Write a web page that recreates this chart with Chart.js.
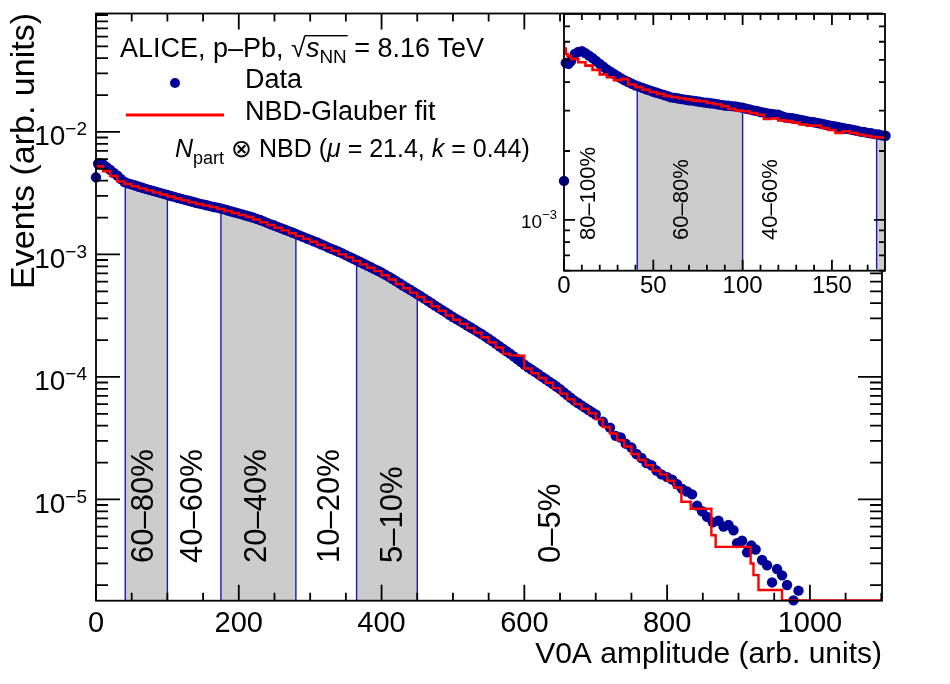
<!DOCTYPE html>
<html>
<head>
<meta charset="utf-8">
<title>V0A amplitude, p-Pb 8.16 TeV</title>
<script src="https://cdn.jsdelivr.net/npm/chart.js@4.4.1/dist/chart.umd.min.js"></script>
<style>
  html, body { margin: 0; padding: 0; background: #fff; }
  #wrap  { position: relative; width: 950px; height: 684px; }
  #main  { position: absolute; left: 0; top: 0; }
  #inset { position: absolute; left: 500px; top: 0; }
</style>
</head>
<body>
<div id="wrap">
  <canvas id="main" width="950" height="684"></canvas>
  <canvas id="inset" width="450" height="310"></canvas>
</div>
<script>
// ── Data ─────────────────────────────────────────────────────────────────────

// Main panel: measured V0A amplitude distribution
const dataAmp = [
  0, 3, 6, 10, 15, 20, 25, 30, 35, 40, 45,
  50, 55, 60, 65, 70, 75, 80, 85, 90, 95, 100, 105, 110, 115, 120, 125, 130, 135, 140, 145,
  150, 155, 160, 165, 170, 175, 180, 185, 190, 195, 200, 205, 210, 215, 220, 225, 230, 235, 240, 245,
  250, 255, 260, 265, 270, 275, 280, 285, 290, 295, 300, 305, 310, 315, 320, 325, 330, 335, 340, 345,
  350, 355, 360, 365, 370, 375, 380, 385, 390, 395, 400, 405, 410, 415, 420, 425, 430, 435, 440, 445,
  450, 455, 460, 465, 470, 475, 480, 485, 490, 495, 500, 505, 510, 515, 520, 525, 530, 535, 540, 545,
  550, 555, 560, 565, 570, 575, 580, 585, 590, 595, 600, 605, 610, 615, 620, 625, 630, 635, 640, 645,
  650, 655, 660, 665, 670, 675, 680, 685, 690, 695, 700,
  710, 720, 728, 735, 742, 750, 757, 764, 771, 778, 785, 792, 800, 807,
  814, 821, 828, 835, 842, 849, 856, 864, 872, 879, 886, 893, 898, 905,
  912, 918, 924, 933, 940, 947, 954, 961, 968, 977, 984,
];
const dataEvents = [
  4.26e-3, 5.50e-3, 5.55e-3, 5.43e-3, 5.15e-3, 4.90e-3, 4.62e-3, 4.40e-3, 4.12e-3, 3.90e-3, 3.80e-3,
  3.73e-3, 3.65e-3, 3.57e-3, 3.50e-3, 3.43e-3, 3.36e-3, 3.30e-3, 3.24e-3, 3.18e-3, 3.12e-3,
  3.06e-3, 3.00e-3, 2.95e-3, 2.89e-3, 2.84e-3, 2.79e-3, 2.74e-3, 2.69e-3, 2.64e-3, 2.60e-3,
  2.56e-3, 2.52e-3, 2.48e-3, 2.44e-3, 2.41e-3, 2.37e-3, 2.33e-3, 2.28e-3, 2.24e-3, 2.20e-3,
  2.16e-3, 2.12e-3, 2.08e-3, 2.04e-3, 2.00e-3, 1.95e-3, 1.91e-3, 1.86e-3, 1.81e-3, 1.76e-3,
  1.72e-3, 1.67e-3, 1.63e-3, 1.59e-3, 1.55e-3, 1.51e-3, 1.47e-3, 1.43e-3, 1.39e-3, 1.35e-3,
  1.32e-3, 1.28e-3, 1.25e-3, 1.21e-3, 1.18e-3, 1.14e-3, 1.11e-3, 1.08e-3, 1.05e-3, 1.02e-3,
  9.86e-4, 9.55e-4, 9.25e-4, 8.96e-4, 8.67e-4, 8.39e-4, 8.11e-4, 7.85e-4, 7.59e-4, 7.35e-4,
  7.11e-4, 6.84e-4, 6.58e-4, 6.32e-4, 6.07e-4, 5.82e-4, 5.58e-4, 5.36e-4, 5.15e-4, 4.94e-4,
  4.74e-4, 4.55e-4, 4.36e-4, 4.17e-4, 3.99e-4, 3.82e-4, 3.66e-4, 3.51e-4, 3.36e-4, 3.22e-4,
  3.08e-4, 2.96e-4, 2.85e-4, 2.74e-4, 2.63e-4, 2.53e-4, 2.43e-4, 2.33e-4, 2.24e-4, 2.14e-4,
  2.05e-4, 1.96e-4, 1.87e-4, 1.78e-4, 1.70e-4, 1.62e-4, 1.55e-4, 1.47e-4, 1.40e-4, 1.33e-4,
  1.26e-4, 1.20e-4, 1.15e-4, 1.10e-4, 1.05e-4, 1.00e-4, 9.57e-5, 9.15e-5, 8.75e-5, 8.34e-5,
  7.94e-5, 7.51e-5, 7.11e-5, 6.75e-5, 6.40e-5, 6.12e-5, 5.86e-5, 5.61e-5, 5.37e-5, 5.14e-5, 4.93e-5,
  4.30e-5, 3.85e-5, 3.30e-5, 3.20e-5, 2.85e-5, 2.65e-5, 2.35e-5, 2.18e-5, 1.98e-5, 1.90e-5, 1.72e-5, 1.60e-5, 1.52e-5, 1.45e-5,
  1.33e-5, 1.22e-5, 1.16e-5, 1.10e-5, 8.9e-6, 8.0e-6, 7.2e-6, 6.5e-6, 6.7e-6, 6.0e-6, 6.2e-6, 5.6e-6, 4.4e-6, 4.6e-6,
  3.7e-6, 4.2e-6, 3.9e-6, 3.2e-6, 2.9e-6, 2.1e-6, 2.7e-6, 2.4e-6, 2.0e-6, 1.5e-6, 1.8e-6,
];

// Main panel: NBD-Glauber fit (histogram, each value holds until the next edge)
const fitAmp = [
  0, 10, 20, 30, 40, 50, 60, 70, 80, 90, 100, 110, 120, 130, 140, 150, 160, 170, 180, 190,
  200, 210, 220, 230, 240, 250, 260, 270, 280, 290, 300, 310, 320, 330, 340, 350, 360, 370, 380, 390,
  400, 410, 420, 430, 440, 450, 460, 470, 480, 490, 500, 510, 520, 530, 540, 550, 560, 570, 580, 590,
  600, 610, 620, 630, 640, 650, 660, 670, 680, 690, 700, 710, 720, 730, 740, 750, 760, 770, 780, 790,
  800, 810, 820, 833, 862, 868, 917, 921, 928, 961, 985, 1101,
];
const fitEvents = [
  5.60e-3, 5.25e-3, 4.78e-3, 4.36e-3, 3.94e-3, 3.76e-3, 3.60e-3, 3.46e-3, 3.33e-3, 3.20e-3,
  3.08e-3, 2.97e-3, 2.86e-3, 2.76e-3, 2.66e-3, 2.58e-3, 2.50e-3, 2.43e-3, 2.35e-3, 2.26e-3,
  2.18e-3, 2.10e-3, 2.02e-3, 1.93e-3, 1.83e-3, 1.74e-3, 1.65e-3, 1.57e-3, 1.49e-3, 1.41e-3,
  1.34e-3, 1.27e-3, 1.20e-3, 1.13e-3, 1.07e-3, 1.00e-3, 9.45e-4, 8.85e-4, 8.30e-4, 7.78e-4,
  7.30e-4, 6.76e-4, 6.24e-4, 5.74e-4, 5.30e-4, 4.88e-4, 4.49e-4, 4.11e-4, 3.77e-4, 3.46e-4,
  3.17e-4, 2.93e-4, 2.71e-4, 2.50e-4, 2.30e-4, 2.11e-4, 1.92e-4, 1.74e-4, 1.55e-4, 1.50e-4,
  1.49e-4, 1.17e-4, 1.07e-4, 9.8e-5, 8.95e-5, 8.1e-5, 7.3e-5, 6.55e-5, 6.0e-5, 5.5e-5,
  5.05e-5, 4.5e-5, 3.9e-5, 3.45e-5, 3.05e-5, 2.7e-5, 2.35e-5, 2.1e-5, 1.9e-5, 1.72e-5,
  1.6e-5, 1.42e-5, 1.25e-5, 9.56e-6, 8.4e-6, 5.1e-6, 4.1e-6, 3.0e-6, 2.41e-6, 1.82e-6, 1.5e-6, 1.5e-6,
];

// Inset: low-amplitude region
const insetAmp = [
  0, 1, 2.5, 4, 6, 8, 10,
  12, 14, 16, 18, 20, 22, 24, 26, 28, 30, 32, 34, 36, 38, 40, 42, 44, 46, 48,
  50, 52, 54, 56, 58, 60, 62, 64, 66, 68, 70, 72, 74, 76, 78, 80, 82, 84, 86, 88,
  90, 92, 94, 96, 98, 100, 102, 104, 106, 108, 110, 112, 114, 116, 118, 120, 122, 124, 126, 128,
  130, 132, 134, 136, 138, 140, 142, 144, 146, 148, 150, 152, 154, 156, 158, 160, 162, 164, 166, 168,
  170, 172, 174, 176, 178, 180,
];
const insetEvents = [
  1.48e-3, 4.85e-3, 4.80e-3, 4.95e-3, 5.30e-3, 5.42e-3, 5.45e-3,
  5.35e-3, 5.22e-3, 5.09e-3, 4.94e-3, 4.80e-3, 4.67e-3, 4.54e-3, 4.44e-3, 4.34e-3, 4.24e-3,
  4.15e-3, 4.07e-3, 4.00e-3, 3.93e-3, 3.87e-3, 3.82e-3, 3.77e-3, 3.72e-3, 3.68e-3,
  3.63e-3, 3.59e-3, 3.55e-3, 3.51e-3, 3.47e-3, 3.43e-3, 3.41e-3, 3.39e-3, 3.37e-3, 3.35e-3,
  3.33e-3, 3.32e-3, 3.30e-3, 3.28e-3, 3.26e-3, 3.25e-3, 3.23e-3, 3.22e-3, 3.20e-3, 3.18e-3,
  3.16e-3, 3.15e-3, 3.14e-3, 3.13e-3, 3.11e-3, 3.09e-3, 3.06e-3, 3.04e-3, 3.01e-3, 2.99e-3,
  2.96e-3, 2.94e-3, 2.92e-3, 2.90e-3, 2.89e-3, 2.88e-3, 2.84e-3, 2.80e-3, 2.79e-3, 2.78e-3,
  2.76e-3, 2.74e-3, 2.72e-3, 2.70e-3, 2.68e-3, 2.67e-3, 2.65e-3, 2.63e-3, 2.61e-3, 2.59e-3,
  2.57e-3, 2.56e-3, 2.54e-3, 2.52e-3, 2.50e-3, 2.49e-3, 2.47e-3, 2.45e-3, 2.43e-3, 2.42e-3,
  2.40e-3, 2.39e-3, 2.37e-3, 2.36e-3, 2.34e-3, 2.33e-3,
];
const insetFitAmp = [
  0, 1, 2, 4, 8, 12, 16, 20, 24, 28, 32, 36, 40, 44, 48, 52, 56, 60, 64, 68,
  72, 76, 80, 84, 88, 92, 96, 100, 104, 108, 112, 116, 120, 124, 128, 132, 136, 140, 144, 148,
  152, 156, 160, 164, 168, 172, 176, 180,
];
const insetFitEvents = [
  6.0e-3, 5.6e-3, 5.3e-3, 5.2e-3, 5.05e-3, 4.88e-3, 4.72e-3, 4.52e-3, 4.32e-3, 4.20e-3,
  4.08e-3, 4.12e-3, 3.90e-3, 3.80e-3, 3.70e-3, 3.62e-3, 3.55e-3, 3.48e-3, 3.44e-3, 3.40e-3,
  3.36e-3, 3.32e-3, 3.30e-3, 3.24e-3, 3.20e-3, 3.14e-3, 3.06e-3, 3.00e-3, 2.98e-3, 2.93e-3,
  2.88e-3, 2.76e-3, 2.78e-3, 2.72e-3, 2.70e-3, 2.66e-3, 2.61e-3, 2.58e-3, 2.58e-3, 2.52e-3,
  2.47e-3, 2.40e-3, 2.44e-3, 2.40e-3, 2.36e-3, 2.33e-3, 2.30e-3, 2.29e-3,
];

// Centrality classes: shaded intervals in V0A amplitude and the class labels
const shadedLow  = [41, 175, 365];
const shadedHigh = [100, 280, 450];
const mainClasses  = ["60\u201380%", "40\u201360%", "20\u201340%", "10\u201320%", "5\u201310%", "0\u20135%"];
const insetClasses = ["80\u2013100%", "60\u201380%", "40\u201360%"];

// Decades labelled on each y axis
const mainDecades  = [-5, -4, -3, -2];
const insetDecades = [-3];


// ── Style ────────────────────────────────────────────────────────────────────

const FONT = "'Liberation Sans', Arial, Helvetica, sans-serif";
const NAVY = "#000099";
const RED  = "#ff0000";
const GREY = "#cccccc";
const EDGE = "#1a1aaa";

// label centres (in amplitude units) for the rotated class names
const MAIN_LABEL_AT  = [64, 133, 223, 325, 413, 634];
const INSET_LABEL_AT = [13, 65, 115];


// ── Helpers ──────────────────────────────────────────────────────────────────

function points(xs, ys) {
  return xs.map((x, i) => ({ x, y: ys[i] }));
}

// Polygon for a shaded class: down the left edge, along the data, down the right edge
function bandPoints(xs, ys, lo, hi, floor, xmax) {
  const end = Math.min(hi, xmax);
  const near = v => {
    let best = 0;
    xs.forEach((x, i) => { if (Math.abs(x - v) < Math.abs(xs[best] - v)) best = i; });
    return ys[best];
  };
  const pts = [{ x: lo, y: floor }, { x: lo, y: near(lo) }];
  xs.forEach((x, i) => { if (x > lo && x < end) pts.push({ x, y: ys[i] }); });
  pts.push({ x: end, y: near(end) }, { x: end, y: floor });
  return pts;
}

function bandDatasets(xs, ys, floor, xmax) {
  return shadedLow
    .filter(lo => lo < xmax)
    .map((lo, i) => ({
      data: bandPoints(xs, ys, lo, shadedHigh[i], floor, xmax),
      fill: "start",
      backgroundColor: GREY,
      borderColor: EDGE,
      borderWidth: 1.4,
      pointRadius: 0,
      order: 3,
    }));
}

// Draw a run of text pieces (italic / subscript) left to right, return end x
function rich(ctx, x, y, parts, size) {
  ctx.textAlign = "left";
  ctx.textBaseline = "alphabetic";
  for (const p of parts) {
    ctx.font = `${p.it ? "italic " : ""}${size * (p.sc || 1)}px ${FONT}`;
    ctx.fillText(p.t, x, y + (p.dy || 0));
    x += ctx.measureText(p.t).width;
  }
  return x;
}

// "10" with a raised negative exponent, right-aligned at `right`
function powerLabel(ctx, right, py, exp, size, supSize, dyBase, dySup) {
  ctx.textAlign = "right";
  ctx.textBaseline = "alphabetic";
  const sup = "\u2212" + Math.abs(exp);
  ctx.font = `${supSize}px ${FONT}`;
  ctx.fillText(sup, right, py + dySup);
  const w = ctx.measureText(sup).width;
  ctx.font = `${size}px ${FONT}`;
  ctx.fillText("10", right - w, py + dyBase);
}

// Text read bottom-to-top, centred on cx, starting at `bottom`
function verticalText(ctx, text, cx, bottom, size) {
  ctx.save();
  ctx.font = `${size}px ${FONT}`;
  ctx.translate(cx + size * 0.36, bottom);
  ctx.rotate(-Math.PI / 2);
  ctx.textAlign = "left";
  ctx.textBaseline = "alphabetic";
  ctx.fillText(text, 0, 0);
  ctx.restore();
}

// ROOT-style frame: box plus inward ticks on all four sides
const rootFrame = {
  id: "rootFrame",
  beforeDatasetsDraw(chart, args, o) {
    if (!o.whiteFill) return;
    const { ctx, chartArea: a } = chart;
    ctx.save();
    ctx.fillStyle = "#fff";
    ctx.fillRect(a.left, a.top, a.right - a.left, a.bottom - a.top);
    ctx.restore();
  },
  afterDatasetsDraw(chart, args, o) {
    const { ctx, chartArea: a, scales: { x, y } } = chart;
    ctx.save();
    ctx.strokeStyle = "#000";
    ctx.lineWidth = o.lw;
    ctx.beginPath();
    for (let v = 0; v <= x.max + 1e-9; v += o.xMinor) {
      const px = x.getPixelForValue(v);
      const len = v % o.xMajor === 0 ? o.xMajorLen : o.xMinorLen;
      ctx.moveTo(px, a.bottom); ctx.lineTo(px, a.bottom - len);
      ctx.moveTo(px, a.top);    ctx.lineTo(px, a.top + len);
    }
    const e0 = Math.floor(Math.log10(y.min));
    const e1 = Math.ceil(Math.log10(y.max));
    for (let e = e0; e <= e1; e++) {
      for (let k = 1; k <= 9; k++) {
        const v = k * Math.pow(10, e);
        if (v < y.min || v > y.max) continue;
        const py = y.getPixelForValue(v);
        const len = k === 1 ? o.yMajorLen : o.yMinorLen;
        ctx.moveTo(a.left, py);  ctx.lineTo(a.left + len, py);
        ctx.moveTo(a.right, py); ctx.lineTo(a.right - len, py);
      }
    }
    ctx.stroke();
    ctx.strokeRect(a.left, a.top, a.right - a.left, a.bottom - a.top);
    ctx.restore();
  },
};


// ── Main panel ───────────────────────────────────────────────────────────────

const MAIN_YMIN = 1.49e-6, MAIN_YMAX = 0.0926, MAIN_XMAX = 1101;

const mainText = {
  id: "mainText",
  afterDraw(chart) {
    const { ctx, scales: { x, y } } = chart;
    ctx.save();
    ctx.fillStyle = "#000";

    // tick labels
    ctx.font = `29px ${FONT}`;
    ctx.textAlign = "center";
    ctx.textBaseline = "alphabetic";
    for (let v = 0; v <= 1000; v += 200) ctx.fillText(String(v), x.getPixelForValue(v), 632);
    mainDecades.forEach(e => powerLabel(ctx, 87, y.getPixelForValue(Math.pow(10, e)), e, 28, 19, 13.5, 3.5));

    // axis titles
    ctx.font = `30px ${FONT}`;
    ctx.textAlign = "right";
    ctx.fillText("V0A amplitude (arb. units)", 882, 663);
    ctx.save();
    ctx.font = `34px ${FONT}`;
    ctx.translate(34, 13);
    ctx.rotate(-Math.PI / 2);
    ctx.textAlign = "right";
    ctx.fillText("Events (arb. units)", 0, 0);
    ctx.restore();

    // class labels
    mainClasses.forEach((t, i) => verticalText(ctx, t, x.getPixelForValue(MAIN_LABEL_AT[i]), 563, 31));

    // legend block
    let cx = rich(ctx, 120, 57, [{ t: "ALICE, p\u2013Pb, " }], 27);
    ctx.font = `27px ${FONT}`;
    ctx.fillText("\u221A", cx, 57);
    const sx = cx + ctx.measureText("\u221A").width;
    const ex = rich(ctx, sx, 57, [{ t: "s", it: true }, { t: "NN", sc: 0.7, dy: 6 }], 27);
    ctx.fillRect(sx - 1, 35, ex - sx + 2, 1.4);
    rich(ctx, ex, 57, [{ t: " = 8.16 TeV" }], 27);

    ctx.fillStyle = NAVY;
    ctx.beginPath();
    ctx.arc(175, 83, 5, 0, Math.PI * 2);
    ctx.fill();
    ctx.fillStyle = "#000";
    rich(ctx, 245, 88, [{ t: "Data" }], 27);

    ctx.strokeStyle = RED;
    ctx.lineWidth = 3;
    ctx.beginPath();
    ctx.moveTo(126, 115); ctx.lineTo(224, 115);
    ctx.stroke();
    rich(ctx, 245, 120, [{ t: "NBD-Glauber fit" }], 27);

    rich(ctx, 175, 157, [
      { t: "N", it: true }, { t: "part", sc: 0.72, dy: 7 },
      { t: " \u2297 NBD (" }, { t: "\u03BC", it: true }, { t: " = 21.4, " },
      { t: "k", it: true }, { t: " = 0.44)" },
    ], 25);
    ctx.restore();
  },
};

new Chart(document.getElementById("main"), {
  type: "line",
  data: {
    datasets: [
      {
        data: points(fitAmp, fitEvents),
        stepped: "after",
        borderColor: RED,
        borderWidth: 2.4,
        pointRadius: 0,
        fill: false,
        order: 1,
      },
      {
        data: points(dataAmp, dataEvents),
        showLine: false,
        pointRadius: 5.2,
        pointBorderWidth: 0,
        pointBackgroundColor: NAVY,
        clip: 7,
        order: 2,
      },
      ...bandDatasets(dataAmp, dataEvents, MAIN_YMIN, MAIN_XMAX),
    ],
  },
  options: {
    responsive: false,
    animation: false,
    events: [],
    layout: { padding: { left: 96, right: 68, top: 13.5, bottom: 83.3 } },
    scales: {
      x: { type: "linear", min: 0, max: MAIN_XMAX, display: false },
      y: { type: "logarithmic", min: MAIN_YMIN, max: MAIN_YMAX, display: false },
    },
    plugins: {
      legend: { display: false },
      tooltip: { enabled: false },
      rootFrame: { lw: 1.8, xMajor: 200, xMinor: 50, xMajorLen: 16, xMinorLen: 8, yMajorLen: 24, yMinorLen: 12 },
    },
  },
  plugins: [rootFrame, mainText],
});


// ── Inset ────────────────────────────────────────────────────────────────────

const INSET_YMIN = 6.08e-4, INSET_YMAX = 7.93e-3, INSET_XMAX = 179.7;

const insetText = {
  id: "insetText",
  afterDraw(chart) {
    const { ctx, scales: { x, y } } = chart;
    ctx.save();
    ctx.fillStyle = "#000";
    ctx.font = `24px ${FONT}`;
    ctx.textAlign = "center";
    ctx.textBaseline = "alphabetic";
    for (let v = 0; v <= 150; v += 50) ctx.fillText(String(v), x.getPixelForValue(v), 293);
    insetDecades.forEach(e => powerLabel(ctx, 57, y.getPixelForValue(Math.pow(10, e)), e, 19, 13, 8, -1));
    insetClasses.forEach((t, i) => verticalText(ctx, t, x.getPixelForValue(INSET_LABEL_AT[i]), 240, 22));
    ctx.restore();
  },
};

new Chart(document.getElementById("inset"), {
  type: "line",
  data: {
    datasets: [
      {
        data: points(insetFitAmp, insetFitEvents),
        stepped: "after",
        borderColor: RED,
        borderWidth: 2.6,
        pointRadius: 0,
        fill: false,
        order: 1,
      },
      {
        data: points(insetAmp, insetEvents),
        showLine: false,
        pointRadius: 5.2,
        pointBorderWidth: 0,
        pointBackgroundColor: NAVY,
        clip: 7,
        order: 2,
      },
      ...bandDatasets(insetAmp, insetEvents, INSET_YMIN, INSET_XMAX),
    ],
  },
  options: {
    responsive: false,
    animation: false,
    events: [],
    layout: { padding: { left: 64, right: 65, top: 14, bottom: 39.3 } },
    scales: {
      x: { type: "linear", min: 0, max: INSET_XMAX, display: false },
      y: { type: "logarithmic", min: INSET_YMIN, max: INSET_YMAX, display: false },
    },
    plugins: {
      legend: { display: false },
      tooltip: { enabled: false },
      rootFrame: { whiteFill: true, lw: 1.8, xMajor: 50, xMinor: 10, xMajorLen: 11, xMinorLen: 6, yMajorLen: 11, yMinorLen: 6 },
    },
  },
  plugins: [rootFrame, insetText],
});
</script>
</body>
</html>
